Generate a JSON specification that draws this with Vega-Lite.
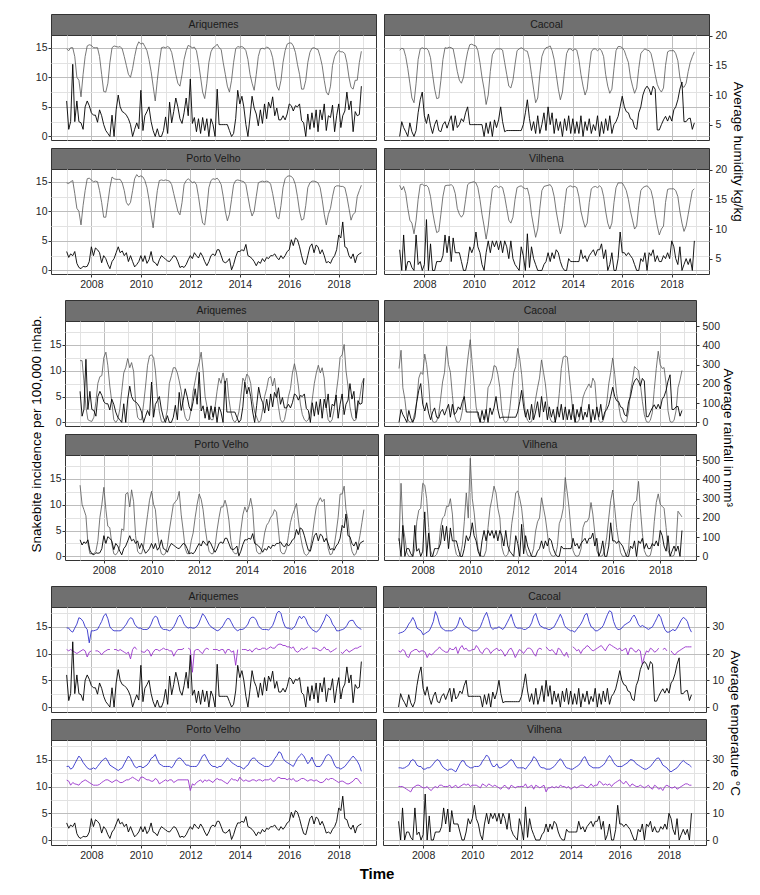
{
"$schema": "https://vega.github.io/schema/vega-lite/v6.json",
"padding": {"left": 29, "top": 13, "right": 6, "bottom": 4},
"background": "white",
"datasets": {
"ari": [
{"d":"2007-01","i":6,"h":17.8,"r":321,"x":29.6,"n":21.5},{"d":"2007-02","i":1.2,"h":17.5,"r":321,"x":29.5,"n":21},{"d":"2007-03","i":2.5,"h":18,"r":216,"x":28.5,"n":21.5},{"d":"2007-04","i":12.2,"h":18,"r":81,"x":28,"n":21},{"d":"2007-05","i":2.5,"h":16.5,"r":14,"x":29.5,"n":20.5},{"d":"2007-06","i":6,"h":13,"r":8,"x":31,"n":20},{"d":"2007-07","i":2.5,"h":12.5,"r":5,"x":33.4,"n":20.5},{"d":"2007-08","i":2.3,"h":9.7,"r":27,"x":33,"n":21},{"d":"2007-09","i":1.2,"h":13.5,"r":108,"x":32,"n":21.5},{"d":"2007-10","i":5,"h":16.5,"r":203,"x":30,"n":21},{"d":"2007-11","i":6,"h":18.3,"r":238,"x":29,"n":18.7},{"d":"2007-12","i":5.2,"h":18.5,"r":243,"x":24,"n":20.5},
{"d":"2008-01","i":4,"h":18.4,"r":338,"x":28.5,"n":21},{"d":"2008-02","i":3.6,"h":18,"r":365,"x":28.5,"n":null},{"d":"2008-03","i":3.6,"h":18,"r":297,"x":28.7,"n":21},{"d":"2008-04","i":2.4,"h":18,"r":189,"x":29,"n":21},{"d":"2008-05","i":4.5,"h":16.5,"r":108,"x":30.5,"n":20.5},{"d":"2008-06","i":3.5,"h":13.5,"r":14,"x":32,"n":19.5},{"d":"2008-07","i":2,"h":10.6,"r":0,"x":34,"n":20.5},{"d":"2008-08","i":1,"h":10.5,"r":14,"x":34.9,"n":21},{"d":"2008-09","i":0.5,"h":12,"r":68,"x":33,"n":21.5},{"d":"2008-10","i":0,"h":15.5,"r":162,"x":30,"n":21.5},{"d":"2008-11","i":3.6,"h":18,"r":257,"x":29,"n":null},{"d":"2008-12","i":0,"h":18.3,"r":284,"x":28.5,"n":21.5},
{"d":"2009-01","i":4.5,"h":18.2,"r":332,"x":28.5,"n":21.5},{"d":"2009-02","i":7,"h":18.1,"r":284,"x":28.5,"n":21},{"d":"2009-03","i":5,"h":18.2,"r":311,"x":28.5,"n":21.5},{"d":"2009-04","i":4.2,"h":17.8,"r":265,"x":29,"n":21},{"d":"2009-05","i":4,"h":16.5,"r":108,"x":30,"n":20.5},{"d":"2009-06","i":3.6,"h":15,"r":27,"x":31,"n":20},{"d":"2009-07","i":3,"h":13.5,"r":14,"x":32.5,"n":20.5},{"d":"2009-08","i":2,"h":13,"r":14,"x":33.4,"n":18},{"d":"2009-09","i":0,"h":14.5,"r":95,"x":33,"n":21.5},{"d":"2009-10","i":1.2,"h":16.5,"r":189,"x":31,"n":22.5},{"d":"2009-11","i":2.3,"h":18.2,"r":297,"x":30,"n":21.5},{"d":"2009-12","i":1.3,"h":19,"r":346,"x":29.5,"n":null},
{"d":"2010-01","i":7.8,"h":18.6,"r":351,"x":29.5,"n":21},{"d":"2010-02","i":1,"h":18.8,"r":338,"x":29,"n":20.5},{"d":"2010-03","i":3.5,"h":18.2,"r":270,"x":29,"n":20.5},{"d":"2010-04","i":4.2,"h":17.5,"r":135,"x":29,"n":21.5},{"d":"2010-05","i":5,"h":16,"r":54,"x":29.5,"n":21},{"d":"2010-06","i":2.5,"h":14,"r":5,"x":31,"n":19},{"d":"2010-07","i":1,"h":11.5,"r":0,"x":33,"n":20.5},{"d":"2010-08","i":0,"h":9,"r":14,"x":34,"n":21.5},{"d":"2010-09","i":1.3,"h":12.5,"r":68,"x":33.5,"n":21.5},{"d":"2010-10","i":0,"h":15.5,"r":203,"x":31,"n":21},{"d":"2010-11","i":0,"h":18,"r":243,"x":29.5,"n":21.5},{"d":"2010-12","i":1,"h":18.1,"r":284,"x":29,"n":22},
{"d":"2011-01","i":3.3,"h":18,"r":284,"x":29,"n":21.5},{"d":"2011-02","i":0.5,"h":18.2,"r":257,"x":28.8,"n":21.5},{"d":"2011-03","i":5.8,"h":18,"r":216,"x":28.5,"n":21},{"d":"2011-04","i":2.3,"h":17.2,"r":162,"x":29,"n":21},{"d":"2011-05","i":4.2,"h":15.5,"r":81,"x":30,"n":19},{"d":"2011-06","i":6.5,"h":13.5,"r":27,"x":31.5,"n":20.5},{"d":"2011-07","i":5,"h":12,"r":8,"x":33.5,"n":21.5},{"d":"2011-08","i":3,"h":11.5,"r":14,"x":34.4,"n":21.5},{"d":"2011-09","i":2.2,"h":13.5,"r":68,"x":33,"n":21.5},{"d":"2011-10","i":4,"h":16,"r":162,"x":31,"n":22},{"d":"2011-11","i":6.5,"h":17.5,"r":216,"x":30,"n":null},{"d":"2011-12","i":3.5,"h":18.4,"r":270,"x":29.5,"n":22},
{"d":"2012-01","i":9.7,"h":18.2,"r":311,"x":29.8,"n":21.5},{"d":"2012-02","i":2.2,"h":18,"r":365,"x":29.5,"n":13},{"d":"2012-03","i":3.2,"h":18.1,"r":270,"x":29.5,"n":21},{"d":"2012-04","i":0.8,"h":17.5,"r":135,"x":30,"n":21.5},{"d":"2012-05","i":3,"h":15.5,"r":81,"x":31,"n":21.5},{"d":"2012-06","i":0.5,"h":13,"r":41,"x":33,"n":20.5},{"d":"2012-07","i":3.2,"h":10.5,"r":14,"x":34.9,"n":20},{"d":"2012-08","i":1,"h":9.4,"r":14,"x":34,"n":21.5},{"d":"2012-09","i":3,"h":12,"r":81,"x":32.5,"n":22},{"d":"2012-10","i":0,"h":15.5,"r":162,"x":31,"n":21.5},{"d":"2012-11","i":3,"h":17.3,"r":230,"x":30,"n":null},{"d":"2012-12","i":2,"h":18,"r":203,"x":29.5,"n":21.5},
{"d":"2013-01","i":0,"h":18.2,"r":257,"x":29,"n":21.5},{"d":"2013-02","i":8,"h":18.6,"r":203,"x":28.5,"n":21.5},{"d":"2013-03","i":2,"h":18,"r":230,"x":28.8,"n":21},{"d":"2013-04","i":2,"h":17.7,"r":122,"x":29.5,"n":21.5},{"d":"2013-05","i":2,"h":15.5,"r":54,"x":30.5,"n":21.5},{"d":"2013-06","i":2,"h":13.5,"r":14,"x":32,"n":20},{"d":"2013-07","i":2,"h":11.5,"r":0,"x":33.1,"n":21.5},{"d":"2013-08","i":1,"h":10.5,"r":14,"x":33,"n":21.5},{"d":"2013-09","i":0,"h":12.5,"r":54,"x":31.5,"n":20.5},{"d":"2013-10","i":0.5,"h":15.5,"r":135,"x":30,"n":21},{"d":"2013-11","i":3,"h":17.8,"r":230,"x":29,"n":15.6},{"d":"2013-12","i":7.8,"h":18.2,"r":211,"x":28.5,"n":21.5},
{"d":"2014-01","i":5.5,"h":18.1,"r":251,"x":29,"n":null},{"d":"2014-02","i":6.8,"h":18.2,"r":238,"x":29,"n":21.5},{"d":"2014-03","i":5,"h":18,"r":203,"x":29.2,"n":21.5},{"d":"2014-04","i":2,"h":17.5,"r":108,"x":30,"n":21.5},{"d":"2014-05","i":0,"h":16,"r":54,"x":31,"n":21},{"d":"2014-06","i":3.3,"h":13.5,"r":27,"x":33,"n":21.5},{"d":"2014-07","i":6.8,"h":12,"r":0,"x":33.6,"n":20.5},{"d":"2014-08","i":4.8,"h":10.8,"r":8,"x":33.5,"n":21.5},{"d":"2014-09","i":3.8,"h":13.5,"r":68,"x":32.5,"n":22},{"d":"2014-10","i":1.8,"h":16.5,"r":135,"x":30.5,"n":21.5},{"d":"2014-11","i":4.5,"h":17.8,"r":176,"x":29.5,"n":21.5},{"d":"2014-12","i":2.2,"h":17.9,"r":230,"x":29,"n":22},
{"d":"2015-01","i":5.5,"h":17.8,"r":238,"x":29,"n":22},{"d":"2015-02","i":3,"h":18.1,"r":189,"x":29,"n":21.5},{"d":"2015-03","i":5.8,"h":18,"r":230,"x":28.8,"n":22},{"d":"2015-04","i":4.8,"h":17.5,"r":149,"x":29.5,"n":22.5},{"d":"2015-05","i":6.7,"h":16.3,"r":81,"x":30.5,"n":22},{"d":"2015-06","i":3.5,"h":14,"r":14,"x":32.5,"n":22},{"d":"2015-07","i":4.8,"h":11.5,"r":0,"x":35,"n":23},{"d":"2015-08","i":2.8,"h":10.8,"r":14,"x":35.9,"n":23.5},{"d":"2015-09","i":2.8,"h":12.5,"r":68,"x":35,"n":23.5},{"d":"2015-10","i":3.5,"h":15.5,"r":135,"x":32,"n":23},{"d":"2015-11","i":2.8,"h":17.5,"r":176,"x":30,"n":23},{"d":"2015-12","i":3.8,"h":18.6,"r":257,"x":29.5,"n":22.5},
{"d":"2016-01","i":5.5,"h":18.8,"r":305,"x":29.5,"n":22.5},{"d":"2016-02","i":5.2,"h":18.8,"r":257,"x":29,"n":22},{"d":"2016-03","i":4.3,"h":18.3,"r":189,"x":29.5,"n":22.5},{"d":"2016-04","i":5.2,"h":17.2,"r":95,"x":30.5,"n":21},{"d":"2016-05","i":5,"h":15.2,"r":41,"x":32.5,"n":20.5},{"d":"2016-06","i":5.5,"h":13.5,"r":14,"x":34,"n":21},{"d":"2016-07","i":2.7,"h":11,"r":5,"x":33,"n":22},{"d":"2016-08","i":2.3,"h":11,"r":14,"x":34,"n":21.5},{"d":"2016-09","i":0,"h":12.5,"r":54,"x":33,"n":22},{"d":"2016-10","i":3.8,"h":15.5,"r":122,"x":31,"n":22.5},{"d":"2016-11","i":1.2,"h":17.2,"r":203,"x":30,"n":null},{"d":"2016-12","i":4,"h":17.9,"r":257,"x":29,"n":22},
{"d":"2017-01","i":1.5,"h":18,"r":297,"x":28.5,"n":22},{"d":"2017-02","i":4.5,"h":17.8,"r":257,"x":28,"n":22},{"d":"2017-03","i":0.8,"h":17.7,"r":284,"x":28.5,"n":21.5},{"d":"2017-04","i":4.5,"h":16.5,"r":230,"x":29.5,"n":21},{"d":"2017-05","i":2.8,"h":15,"r":81,"x":31,"n":21.5},{"d":"2017-06","i":5.5,"h":12.5,"r":14,"x":32.5,"n":22.5},{"d":"2017-07","i":1,"h":10.5,"r":0,"x":34.6,"n":21.5},{"d":"2017-08","i":3.5,"h":10,"r":14,"x":34,"n":21.5},{"d":"2017-09","i":3.2,"h":11.5,"r":68,"x":33,"n":20.5},{"d":"2017-10","i":5.3,"h":15,"r":149,"x":31,"n":21},{"d":"2017-11","i":0.8,"h":16.5,"r":230,"x":30,"n":21.5},{"d":"2017-12","i":3.5,"h":17.2,"r":338,"x":28.5,"n":22},
{"d":"2018-01","i":5.5,"h":17.5,"r":351,"x":28.5,"n":null},{"d":"2018-02","i":1.5,"h":17.3,"r":405,"x":28.8,"n":20.5},{"d":"2018-03","i":3.5,"h":17.3,"r":270,"x":29,"n":20},{"d":"2018-04","i":4.3,"h":17,"r":189,"x":29.5,"n":21},{"d":"2018-05","i":7.5,"h":15.5,"r":81,"x":30.5,"n":21.5},{"d":"2018-06","i":4.5,"h":13,"r":27,"x":32,"n":20.5},{"d":"2018-07","i":6,"h":11.3,"r":8,"x":32.4,"n":21},{"d":"2018-08","i":0.8,"h":11,"r":14,"x":32.4,"n":21.5},{"d":"2018-09","i":4.2,"h":12.5,"r":81,"x":31,"n":22},{"d":"2018-10","i":3.5,"h":12.5,"r":135,"x":30,"n":22},{"d":"2018-11","i":3.7,"h":15.5,"r":203,"x":29.5,"n":22.5},{"d":"2018-12","i":8.5,"h":17.4,"r":230,"x":29,"n":22.8}
],
"cac": [
{"d":"2007-01","i":0,"h":17.6,"r":280,"x":27.5,"n":21},{"d":"2007-02","i":2.5,"h":17.9,"r":375,"x":27.8,"n":20.5},{"d":"2007-03","i":1.5,"h":17.8,"r":180,"x":28,"n":21.5},{"d":"2007-04","i":0.8,"h":16.5,"r":120,"x":28.5,"n":21},{"d":"2007-05","i":0,"h":14.5,"r":30,"x":29.5,"n":19},{"d":"2007-06","i":2.3,"h":12,"r":5,"x":31,"n":18.5},{"d":"2007-07","i":0.8,"h":9.5,"r":0,"x":32,"n":20.5},{"d":"2007-08","i":0,"h":8.7,"r":10,"x":33.5,"n":21},{"d":"2007-09","i":1,"h":12,"r":50,"x":32,"n":21.5},{"d":"2007-10","i":4,"h":16,"r":110,"x":29.5,"n":21.5},{"d":"2007-11","i":6.2,"h":17.8,"r":230,"x":29,"n":20.5},{"d":"2007-12","i":7.5,"h":18,"r":260,"x":28.5,"n":21},
{"d":"2008-01","i":3.5,"h":17.8,"r":250,"x":27,"n":21},{"d":"2008-02","i":2.2,"h":17.9,"r":355,"x":27.5,"n":20.5},{"d":"2008-03","i":3.8,"h":17.5,"r":300,"x":28,"n":18.5},{"d":"2008-04","i":1.8,"h":16.3,"r":200,"x":28.5,"n":20},{"d":"2008-05","i":0.5,"h":13.5,"r":60,"x":30,"n":19.5},{"d":"2008-06","i":2,"h":11,"r":5,"x":32,"n":20},{"d":"2008-07","i":2.8,"h":9.4,"r":0,"x":35.7,"n":21},{"d":"2008-08","i":1,"h":9.5,"r":5,"x":34,"n":21.5},{"d":"2008-09","i":0.8,"h":12.5,"r":40,"x":31,"n":22.5},{"d":"2008-10","i":2,"h":16,"r":120,"x":29.5,"n":21.5},{"d":"2008-11","i":2.5,"h":18,"r":210,"x":29,"n":21},{"d":"2008-12","i":1.4,"h":17.9,"r":260,"x":28.5,"n":20.5},
{"d":"2009-01","i":2.5,"h":18.1,"r":395,"x":28.5,"n":20.5},{"d":"2009-02","i":3.5,"h":18,"r":300,"x":28.5,"n":22},{"d":"2009-03","i":1,"h":17.8,"r":260,"x":28.5,"n":21.5},{"d":"2009-04","i":3.5,"h":16,"r":140,"x":29,"n":21.5},{"d":"2009-05","i":1.5,"h":14,"r":40,"x":29.5,"n":22.5},{"d":"2009-06","i":2,"h":12.5,"r":5,"x":31,"n":20},{"d":"2009-07","i":3,"h":12,"r":0,"x":33.5,"n":22},{"d":"2009-08","i":2.5,"h":13,"r":10,"x":32.5,"n":23},{"d":"2009-09","i":4,"h":15.5,"r":60,"x":30.5,"n":21.5},{"d":"2009-10","i":5,"h":17.3,"r":150,"x":30,"n":22},{"d":"2009-11","i":2,"h":18.5,"r":260,"x":29.5,"n":21},{"d":"2009-12","i":2,"h":18.6,"r":350,"x":29,"n":21},
{"d":"2010-01","i":2,"h":18.4,"r":430,"x":28.5,"n":21.5},{"d":"2010-02","i":2,"h":18.3,"r":300,"x":28.5,"n":21.5},{"d":"2010-03","i":2,"h":17.5,"r":200,"x":28.5,"n":23},{"d":"2010-04","i":2,"h":15.5,"r":80,"x":29,"n":22},{"d":"2010-05","i":2,"h":13,"r":30,"x":30,"n":20.5},{"d":"2010-06","i":0,"h":11,"r":5,"x":32,"n":20},{"d":"2010-07","i":2.3,"h":8.4,"r":0,"x":34,"n":21.5},{"d":"2010-08","i":0.5,"h":10,"r":0,"x":35.4,"n":22},{"d":"2010-09","i":2.5,"h":14,"r":40,"x":33,"n":21.5},{"d":"2010-10","i":0,"h":16.8,"r":180,"x":30,"n":20},{"d":"2010-11","i":2.8,"h":17.5,"r":200,"x":29,"n":21},{"d":"2010-12","i":1.5,"h":17.8,"r":230,"x":29.5,"n":21.5},
{"d":"2011-01","i":2.8,"h":17.8,"r":295,"x":29.5,"n":22},{"d":"2011-02","i":5,"h":17.8,"r":290,"x":30,"n":21},{"d":"2011-03","i":2.5,"h":17.6,"r":250,"x":29.5,"n":21.5},{"d":"2011-04","i":0.8,"h":15.5,"r":180,"x":29,"n":20.5},{"d":"2011-05","i":1,"h":13.5,"r":60,"x":30,"n":19},{"d":"2011-06","i":1,"h":11.5,"r":10,"x":31.5,"n":20},{"d":"2011-07","i":1,"h":11.2,"r":0,"x":33,"n":21.5},{"d":"2011-08","i":1,"h":12.5,"r":10,"x":34.7,"n":22},{"d":"2011-09","i":1,"h":15.2,"r":70,"x":32,"n":20.5},{"d":"2011-10","i":1,"h":17.5,"r":170,"x":30,"n":18.5},{"d":"2011-11","i":1,"h":17.8,"r":260,"x":29.5,"n":20},{"d":"2011-12","i":1,"h":18,"r":290,"x":29.5,"n":21.5},
{"d":"2012-01","i":2,"h":17.8,"r":385,"x":29.5,"n":21},{"d":"2012-02","i":4,"h":17.5,"r":330,"x":29,"n":20},{"d":"2012-03","i":6.2,"h":17.4,"r":250,"x":29,"n":21},{"d":"2012-04","i":3,"h":16,"r":130,"x":29.5,"n":22},{"d":"2012-05","i":1,"h":13.5,"r":40,"x":30,"n":22},{"d":"2012-06","i":2.5,"h":11,"r":10,"x":31.5,"n":21.5},{"d":"2012-07","i":0.5,"h":8.7,"r":0,"x":34,"n":20},{"d":"2012-08","i":3.5,"h":9.5,"r":5,"x":35,"n":19},{"d":"2012-09","i":0.5,"h":13.5,"r":50,"x":32.5,"n":21.5},{"d":"2012-10","i":2,"h":16.5,"r":120,"x":30.5,"n":22},{"d":"2012-11","i":4,"h":17.5,"r":180,"x":30,"n":21.5},{"d":"2012-12","i":1,"h":18,"r":230,"x":29.5,"n":null},
{"d":"2013-01","i":5,"h":18.1,"r":325,"x":29.5,"n":22.5},{"d":"2013-02","i":2,"h":18.3,"r":260,"x":29,"n":21.5},{"d":"2013-03","i":4,"h":17.5,"r":200,"x":29,"n":21},{"d":"2013-04","i":0.5,"h":16,"r":100,"x":29.5,"n":21.5},{"d":"2013-05","i":3,"h":13.5,"r":30,"x":30,"n":20.5},{"d":"2013-06","i":1,"h":11,"r":5,"x":31.5,"n":19.5},{"d":"2013-07","i":2.5,"h":9.2,"r":0,"x":33,"n":22},{"d":"2013-08","i":0,"h":10.5,"r":5,"x":34.7,"n":21.5},{"d":"2013-09","i":3,"h":14,"r":50,"x":33,"n":20},{"d":"2013-10","i":1,"h":17,"r":150,"x":30.5,"n":19},{"d":"2013-11","i":3.5,"h":17.8,"r":280,"x":29.5,"n":20.5},{"d":"2013-12","i":0.5,"h":17.8,"r":340,"x":29,"n":18.5},
{"d":"2014-01","i":3,"h":17.5,"r":345,"x":28.5,"n":null},{"d":"2014-02","i":0.5,"h":17.8,"r":340,"x":28.5,"n":22.5},{"d":"2014-03","i":2.5,"h":17.6,"r":250,"x":28,"n":22},{"d":"2014-04","i":0.5,"h":16,"r":150,"x":29,"n":21},{"d":"2014-05","i":3.5,"h":13.5,"r":40,"x":30,"n":21.5},{"d":"2014-06","i":0,"h":11.5,"r":5,"x":31,"n":20},{"d":"2014-07","i":2.5,"h":10,"r":0,"x":32.5,"n":21.5},{"d":"2014-08","i":1,"h":11,"r":10,"x":34.5,"n":22},{"d":"2014-09","i":3,"h":14.5,"r":60,"x":35,"n":23},{"d":"2014-10","i":0.5,"h":17.3,"r":130,"x":32,"n":22.5},{"d":"2014-11","i":2,"h":17.8,"r":160,"x":30,"n":21.5},{"d":"2014-12","i":1,"h":17.8,"r":180,"x":29.5,"n":21},
{"d":"2015-01","i":3.5,"h":17.5,"r":200,"x":28.5,"n":21.5},{"d":"2015-02","i":0,"h":17.8,"r":180,"x":28.5,"n":22},{"d":"2015-03","i":2.5,"h":17.5,"r":230,"x":29,"n":22.5},{"d":"2015-04","i":0.5,"h":16.5,"r":210,"x":29.5,"n":23},{"d":"2015-05","i":3,"h":13.5,"r":80,"x":30.5,"n":22},{"d":"2015-06","i":1,"h":11.5,"r":10,"x":32.5,"n":21},{"d":"2015-07","i":3.5,"h":10.3,"r":0,"x":34.5,"n":22.5},{"d":"2015-08","i":0.5,"h":11,"r":5,"x":36,"n":23.5},{"d":"2015-09","i":2,"h":14.5,"r":40,"x":35.5,"n":23},{"d":"2015-10","i":2.5,"h":17.5,"r":100,"x":32,"n":22.5},{"d":"2015-11","i":3.4,"h":18.2,"r":200,"x":30,"n":22},{"d":"2015-12","i":5,"h":18.2,"r":260,"x":29,"n":21.5},
{"d":"2016-01","i":6.8,"h":18,"r":335,"x":29,"n":22},{"d":"2016-02","i":5,"h":17.5,"r":250,"x":29.5,"n":21},{"d":"2016-03","i":4.2,"h":16.5,"r":150,"x":30.5,"n":21.5},{"d":"2016-04","i":4,"h":15.5,"r":90,"x":31,"n":22},{"d":"2016-05","i":3,"h":13,"r":30,"x":31.5,"n":19.5},{"d":"2016-06","i":2.8,"h":11.5,"r":5,"x":32,"n":22},{"d":"2016-07","i":1.5,"h":10.3,"r":0,"x":33.5,"n":22},{"d":"2016-08","i":1.2,"h":11.2,"r":5,"x":34.4,"n":21},{"d":"2016-09","i":4,"h":14.5,"r":60,"x":33,"n":20.5},{"d":"2016-10","i":5,"h":17,"r":160,"x":31,"n":21.5},{"d":"2016-11","i":7,"h":17.5,"r":220,"x":30,"n":21},{"d":"2016-12","i":8,"h":17.8,"r":290,"x":30.5,"n":16},
{"d":"2017-01","i":8.5,"h":17.6,"r":280,"x":30,"n":19},{"d":"2017-02","i":8,"h":17.5,"r":270,"x":29.5,"n":21},{"d":"2017-03","i":7,"h":17,"r":200,"x":29,"n":20.5},{"d":"2017-04","i":8.5,"h":15.5,"r":110,"x":29.5,"n":22},{"d":"2017-05","i":8,"h":13.5,"r":40,"x":30,"n":21.5},{"d":"2017-06","i":1.1,"h":11.8,"r":5,"x":31.5,"n":20.5},{"d":"2017-07","i":1.1,"h":11,"r":0,"x":33,"n":21},{"d":"2017-08","i":2,"h":10.5,"r":10,"x":34.7,"n":22},{"d":"2017-09","i":2.8,"h":11.2,"r":50,"x":33.5,"n":null},{"d":"2017-10","i":3.4,"h":15,"r":170,"x":31,"n":21.5},{"d":"2017-11","i":2.6,"h":17.3,"r":280,"x":29,"n":22},{"d":"2017-12","i":3.5,"h":17.5,"r":370,"x":28,"n":21},
{"d":"2018-01","i":2.6,"h":17.5,"r":300,"x":28,"n":null},{"d":"2018-02","i":4.5,"h":17.5,"r":280,"x":28.5,"n":21},{"d":"2018-03","i":5,"h":17,"r":285,"x":29,"n":20},{"d":"2018-04","i":6.2,"h":15.8,"r":200,"x":28.5,"n":19.5},{"d":"2018-05","i":8,"h":13,"r":60,"x":29.5,"n":20.5},{"d":"2018-06","i":9.2,"h":11.5,"r":5,"x":31,"n":21},{"d":"2018-07","i":2.5,"h":11.3,"r":0,"x":32.5,"n":21.5},{"d":"2018-08","i":2.5,"h":12,"r":10,"x":33.5,"n":22},{"d":"2018-09","i":3,"h":14,"r":60,"x":33,"n":22.5},{"d":"2018-10","i":3.1,"h":15.5,"r":180,"x":32,"n":22.5},{"d":"2018-11","i":1.2,"h":16.5,"r":220,"x":29.5,"n":22.5},{"d":"2018-12","i":2.3,"h":17.3,"r":270,"x":28,"n":22.5}
],
"pvh": [
{"d":"2007-01","i":3.2,"h":17.8,"r":370,"x":27.5,"n":22.4},{"d":"2007-02","i":2.2,"h":17.7,"r":270,"x":27.6,"n":22},{"d":"2007-03","i":2.8,"h":18,"r":243,"x":26.5,"n":20.5},{"d":"2007-04","i":2.5,"h":18.2,"r":211,"x":27,"n":21.5},{"d":"2007-05","i":3.2,"h":16,"r":68,"x":28.5,"n":21},{"d":"2007-06","i":1.2,"h":13.5,"r":14,"x":30,"n":20.8},{"d":"2007-07","i":0.5,"h":13,"r":14,"x":31.4,"n":20.5},{"d":"2007-08","i":0.3,"h":10.7,"r":14,"x":30.5,"n":21.5},{"d":"2007-09","i":0.7,"h":14,"r":27,"x":29,"n":22},{"d":"2007-10","i":0.6,"h":16.5,"r":81,"x":28,"n":22.5},{"d":"2007-11","i":0.7,"h":18.5,"r":203,"x":27,"n":22},{"d":"2007-12","i":1.5,"h":18.6,"r":270,"x":26.5,"n":21.5},
{"d":"2008-01","i":4,"h":18.3,"r":359,"x":26.5,"n":21},{"d":"2008-02","i":2.5,"h":18,"r":243,"x":27,"n":20.5},{"d":"2008-03","i":3.8,"h":18.1,"r":157,"x":26.5,"n":20.5},{"d":"2008-04","i":3.5,"h":18,"r":149,"x":27.5,"n":20.5},{"d":"2008-05","i":3,"h":16.5,"r":68,"x":28.5,"n":20.8},{"d":"2008-06","i":1.3,"h":14.5,"r":14,"x":29.5,"n":21.5},{"d":"2008-07","i":2.5,"h":12,"r":8,"x":30.2,"n":22},{"d":"2008-08","i":2,"h":12,"r":22,"x":30.7,"n":22.5},{"d":"2008-09","i":1,"h":14.5,"r":54,"x":29.5,"n":22.5},{"d":"2008-10","i":0.3,"h":17,"r":143,"x":28,"n":22},{"d":"2008-11","i":1.5,"h":18.8,"r":135,"x":27.5,"n":21.5},{"d":"2008-12","i":2,"h":18.5,"r":324,"x":27,"n":22},
{"d":"2009-01","i":3,"h":18.4,"r":332,"x":26.5,"n":22.5},{"d":"2009-02","i":4,"h":18.4,"r":257,"x":26,"n":22},{"d":"2009-03","i":3,"h":18.4,"r":346,"x":26.5,"n":21.5},{"d":"2009-04","i":3.3,"h":17.8,"r":284,"x":27,"n":21.5},{"d":"2009-05","i":2.5,"h":16.5,"r":108,"x":28.5,"n":22},{"d":"2009-06","i":3,"h":14.5,"r":27,"x":30,"n":22.5},{"d":"2009-07","i":1.5,"h":14,"r":14,"x":31.4,"n":22.5},{"d":"2009-08","i":2.5,"h":14.5,"r":14,"x":30.5,"n":23},{"d":"2009-09","i":1.5,"h":16.5,"r":54,"x":29,"n":23.5},{"d":"2009-10","i":0.6,"h":18.5,"r":135,"x":27.5,"n":23},{"d":"2009-11","i":1,"h":19.2,"r":216,"x":27,"n":22.5},{"d":"2009-12","i":1.5,"h":18.8,"r":292,"x":27.5,"n":22},
{"d":"2010-01","i":2.5,"h":19,"r":338,"x":27.5,"n":23.5},{"d":"2010-02","i":1.5,"h":18.8,"r":270,"x":27,"n":23.5},{"d":"2010-03","i":2.5,"h":18.2,"r":243,"x":27.5,"n":23},{"d":"2010-04","i":1.2,"h":17,"r":122,"x":28,"n":22.5},{"d":"2010-05","i":1.8,"h":15,"r":54,"x":29,"n":22.5},{"d":"2010-06","i":3.2,"h":12.5,"r":14,"x":30.5,"n":22},{"d":"2010-07","i":1.5,"h":10.2,"r":8,"x":31,"n":22},{"d":"2010-08","i":1.3,"h":13.5,"r":14,"x":32,"n":23},{"d":"2010-09","i":0.8,"h":16.5,"r":54,"x":30,"n":22.5},{"d":"2010-10","i":1.8,"h":18.2,"r":135,"x":28.5,"n":21},{"d":"2010-11","i":2.5,"h":18.3,"r":203,"x":28,"n":21.5},{"d":"2010-12","i":2.2,"h":18.2,"r":270,"x":27.5,"n":22},
{"d":"2011-01","i":1.9,"h":18.3,"r":284,"x":27.5,"n":22.5},{"d":"2011-02","i":1.6,"h":18.2,"r":297,"x":27.5,"n":22},{"d":"2011-03","i":1.5,"h":18.1,"r":338,"x":27.5,"n":22.5},{"d":"2011-04","i":2,"h":17.5,"r":216,"x":27,"n":22.5},{"d":"2011-05","i":2.5,"h":16,"r":135,"x":28,"n":21.5},{"d":"2011-06","i":2.3,"h":14.5,"r":41,"x":29.5,"n":22},{"d":"2011-07","i":1.5,"h":13,"r":14,"x":30.5,"n":22.5},{"d":"2011-08","i":0.5,"h":12.4,"r":14,"x":30.7,"n":22.5},{"d":"2011-09","i":0.7,"h":14.5,"r":81,"x":30,"n":22.5},{"d":"2011-10","i":0.5,"h":17.5,"r":122,"x":29,"n":22.5},{"d":"2011-11","i":1,"h":18.2,"r":203,"x":28,"n":22.5},{"d":"2011-12","i":1.8,"h":18.5,"r":270,"x":28,"n":22.5},
{"d":"2012-01","i":2.5,"h":18.2,"r":324,"x":27.5,"n":18.5},{"d":"2012-02","i":2,"h":17.8,"r":297,"x":27.5,"n":21},{"d":"2012-03","i":3,"h":18,"r":243,"x":27.5,"n":20.5},{"d":"2012-04","i":2.5,"h":17.5,"r":149,"x":27.5,"n":21.5},{"d":"2012-05","i":2.1,"h":15.5,"r":81,"x":28.5,"n":22},{"d":"2012-06","i":3,"h":13,"r":27,"x":30,"n":22.5},{"d":"2012-07","i":2.4,"h":11,"r":14,"x":31.5,"n":21.5},{"d":"2012-08","i":1.5,"h":10.7,"r":14,"x":32,"n":22.5},{"d":"2012-09","i":0.8,"h":13.5,"r":54,"x":30.5,"n":22},{"d":"2012-10","i":1.5,"h":17,"r":135,"x":29,"n":22.5},{"d":"2012-11","i":2.5,"h":18.2,"r":203,"x":28,"n":22},{"d":"2012-12","i":2.8,"h":18.5,"r":257,"x":27.5,"n":21.5},
{"d":"2013-01","i":2.5,"h":18.4,"r":257,"x":27.5,"n":22.5},{"d":"2013-02","i":3.5,"h":18.6,"r":292,"x":27,"n":23},{"d":"2013-03","i":3.5,"h":18.2,"r":257,"x":27.5,"n":22.5},{"d":"2013-04","i":2.5,"h":17.5,"r":189,"x":27.5,"n":22.5},{"d":"2013-05","i":1.5,"h":15.5,"r":81,"x":28.5,"n":22},{"d":"2013-06","i":1.3,"h":13,"r":27,"x":29.5,"n":21.5},{"d":"2013-07","i":1.5,"h":11.4,"r":14,"x":30.7,"n":21},{"d":"2013-08","i":2,"h":12.5,"r":14,"x":30,"n":22},{"d":"2013-09","i":0.1,"h":15,"r":41,"x":29,"n":23},{"d":"2013-10","i":1,"h":17.5,"r":135,"x":28.5,"n":22.5},{"d":"2013-11","i":2.3,"h":18.2,"r":216,"x":28,"n":22.5},{"d":"2013-12","i":3.2,"h":18.3,"r":257,"x":27.5,"n":22},
{"d":"2014-01","i":3.2,"h":18.2,"r":230,"x":27.5,"n":23.5},{"d":"2014-02","i":3.5,"h":18.1,"r":257,"x":27,"n":22.5},{"d":"2014-03","i":3.3,"h":18,"r":302,"x":26.5,"n":22},{"d":"2014-04","i":4.4,"h":17.5,"r":243,"x":27.5,"n":22.5},{"d":"2014-05","i":2.5,"h":15.5,"r":95,"x":28,"n":22},{"d":"2014-06","i":2.3,"h":13.5,"r":27,"x":29.5,"n":22},{"d":"2014-07","i":2,"h":12.2,"r":14,"x":30.5,"n":22.5},{"d":"2014-08","i":1.5,"h":13,"r":14,"x":30.7,"n":22.5},{"d":"2014-09","i":0.8,"h":15.5,"r":54,"x":30,"n":22},{"d":"2014-10","i":1.5,"h":17.8,"r":122,"x":29,"n":22.5},{"d":"2014-11","i":1.2,"h":18,"r":162,"x":28.5,"n":22.5},{"d":"2014-12","i":2,"h":18.1,"r":176,"x":28,"n":22},
{"d":"2015-01","i":1.5,"h":18,"r":203,"x":27.5,"n":22.5},{"d":"2015-02","i":2.2,"h":18.1,"r":216,"x":27.5,"n":22.5},{"d":"2015-03","i":2,"h":18,"r":243,"x":27.5,"n":22.5},{"d":"2015-04","i":2.5,"h":17.6,"r":230,"x":28,"n":23},{"d":"2015-05","i":2.5,"h":16,"r":135,"x":29,"n":22},{"d":"2015-06","i":2.8,"h":14,"r":27,"x":30.5,"n":22},{"d":"2015-07","i":2.2,"h":12,"r":14,"x":31.5,"n":23},{"d":"2015-08","i":1.8,"h":11.7,"r":14,"x":33,"n":23.5},{"d":"2015-09","i":2.5,"h":14,"r":41,"x":32.5,"n":23},{"d":"2015-10","i":2,"h":17,"r":108,"x":30.5,"n":23},{"d":"2015-11","i":2.5,"h":18.5,"r":176,"x":29.5,"n":23},{"d":"2015-12","i":3.2,"h":18.9,"r":216,"x":29,"n":22.5},
{"d":"2016-01","i":3.5,"h":19,"r":243,"x":28.5,"n":23},{"d":"2016-02","i":5.2,"h":18.9,"r":275,"x":28,"n":22.5},{"d":"2016-03","i":4.2,"h":18.5,"r":189,"x":27.5,"n":23},{"d":"2016-04","i":5.5,"h":17.5,"r":108,"x":29,"n":22},{"d":"2016-05","i":5.2,"h":15.5,"r":54,"x":30.5,"n":22},{"d":"2016-06","i":4,"h":13,"r":14,"x":31.5,"n":22.5},{"d":"2016-07","i":2.5,"h":11.5,"r":5,"x":32.2,"n":23},{"d":"2016-08","i":1.2,"h":11.7,"r":14,"x":31.5,"n":23},{"d":"2016-09","i":1,"h":14,"r":41,"x":30,"n":22.5},{"d":"2016-10","i":2.5,"h":17,"r":108,"x":28.5,"n":22},{"d":"2016-11","i":4,"h":17.8,"r":189,"x":29.5,"n":22.5},{"d":"2016-12","i":4.5,"h":18.1,"r":257,"x":31,"n":22.5},
{"d":"2017-01","i":3,"h":18.1,"r":284,"x":29,"n":22},{"d":"2017-02","i":4.3,"h":18,"r":305,"x":27.5,"n":22.5},{"d":"2017-03","i":4,"h":17.8,"r":284,"x":27.5,"n":22},{"d":"2017-04","i":2.8,"h":17,"r":297,"x":27.5,"n":21.5},{"d":"2017-05","i":3.5,"h":15,"r":135,"x":28.5,"n":21.5},{"d":"2017-06","i":2.5,"h":12.5,"r":41,"x":30,"n":22},{"d":"2017-07","i":1.3,"h":10.7,"r":8,"x":31.5,"n":23},{"d":"2017-08","i":1.5,"h":12.5,"r":14,"x":32,"n":22.5},{"d":"2017-09","i":1.2,"h":13.5,"r":54,"x":31.5,"n":23},{"d":"2017-10","i":2,"h":15.5,"r":122,"x":30,"n":23},{"d":"2017-11","i":2.5,"h":17.1,"r":203,"x":28,"n":22.5},{"d":"2017-12","i":3.5,"h":17.3,"r":324,"x":27,"n":22},
{"d":"2018-01","i":6,"h":17.3,"r":324,"x":27,"n":21.5},{"d":"2018-02","i":5.5,"h":17.2,"r":365,"x":26.5,"n":22},{"d":"2018-03","i":8.2,"h":17.2,"r":243,"x":27,"n":22},{"d":"2018-04","i":4,"h":17,"r":189,"x":27.5,"n":21.5},{"d":"2018-05","i":3.8,"h":15.5,"r":81,"x":28.5,"n":21},{"d":"2018-06","i":2.5,"h":13.5,"r":27,"x":29.5,"n":21},{"d":"2018-07","i":2,"h":11.5,"r":5,"x":30.5,"n":21.5},{"d":"2018-08","i":2.8,"h":12.5,"r":14,"x":31.4,"n":22},{"d":"2018-09","i":1.3,"h":12.8,"r":54,"x":30.5,"n":23},{"d":"2018-10","i":2.5,"h":15.5,"r":108,"x":29.5,"n":23},{"d":"2018-11","i":2.8,"h":16.5,"r":176,"x":28,"n":22},{"d":"2018-12","i":3,"h":17.4,"r":243,"x":25.7,"n":21}
],
"vil": [
{"d":"2007-01","i":3.5,"h":17.4,"r":80,"x":27,"n":20},{"d":"2007-02","i":0,"h":16.6,"r":380,"x":27,"n":20},{"d":"2007-03","i":6,"h":17.2,"r":160,"x":26.8,"n":20},{"d":"2007-04","i":0,"h":16,"r":100,"x":27,"n":19.5},{"d":"2007-05","i":1.5,"h":13.5,"r":20,"x":27.5,"n":19},{"d":"2007-06","i":1.5,"h":11.5,"r":0,"x":28,"n":18.5},{"d":"2007-07","i":0.5,"h":11,"r":0,"x":29.5,"n":18},{"d":"2007-08","i":0,"h":9.2,"r":0,"x":30.1,"n":19.5},{"d":"2007-09","i":6,"h":11.5,"r":40,"x":29.5,"n":20},{"d":"2007-10","i":1,"h":15,"r":180,"x":28,"n":20.5},{"d":"2007-11","i":1.5,"h":17.5,"r":240,"x":27.5,"n":20.5},{"d":"2007-12","i":0,"h":17.6,"r":250,"x":27.5,"n":20},
{"d":"2008-01","i":1,"h":17.3,"r":380,"x":26.5,"n":19.5},{"d":"2008-02","i":8.6,"h":17.4,"r":370,"x":26.5,"n":19.5},{"d":"2008-03","i":0,"h":17,"r":300,"x":27,"n":20},{"d":"2008-04","i":4.5,"h":15.5,"r":150,"x":27,"n":19},{"d":"2008-05","i":0,"h":13,"r":30,"x":27.5,"n":18.5},{"d":"2008-06","i":0,"h":11,"r":0,"x":28.5,"n":19.5},{"d":"2008-07","i":1.5,"h":9.4,"r":0,"x":29.5,"n":20},{"d":"2008-08","i":1.5,"h":9.6,"r":10,"x":30.1,"n":19.5},{"d":"2008-09","i":1.5,"h":12.5,"r":40,"x":29.5,"n":20.5},{"d":"2008-10","i":2.5,"h":15.5,"r":150,"x":28,"n":20.5},{"d":"2008-11","i":6,"h":17.3,"r":200,"x":27,"n":20},{"d":"2008-12","i":3,"h":17.4,"r":210,"x":26.5,"n":20},
{"d":"2009-01","i":5.8,"h":17.4,"r":260,"x":26,"n":20},{"d":"2009-02","i":1.5,"h":17.5,"r":260,"x":26.5,"n":20.5},{"d":"2009-03","i":5.5,"h":17.2,"r":300,"x":26.5,"n":19.5},{"d":"2009-04","i":3,"h":16,"r":220,"x":26,"n":20},{"d":"2009-05","i":3,"h":13.5,"r":60,"x":25.5,"n":20.5},{"d":"2009-06","i":3,"h":12.5,"r":10,"x":27,"n":19.5},{"d":"2009-07","i":1.5,"h":12,"r":0,"x":28.5,"n":20},{"d":"2009-08","i":0,"h":12.5,"r":5,"x":29.7,"n":20.5},{"d":"2009-09","i":0,"h":15,"r":60,"x":29.5,"n":21},{"d":"2009-10","i":1.5,"h":17.5,"r":180,"x":28,"n":20.5},{"d":"2009-11","i":4,"h":17.8,"r":330,"x":27.5,"n":21},{"d":"2009-12","i":3,"h":17.9,"r":200,"x":27,"n":20},
{"d":"2010-01","i":4,"h":18,"r":510,"x":27,"n":20.5},{"d":"2010-02","i":6.5,"h":17.8,"r":300,"x":27.5,"n":20.5},{"d":"2010-03","i":4,"h":17,"r":230,"x":27.5,"n":20.5},{"d":"2010-04","i":3,"h":15,"r":120,"x":27.5,"n":20},{"d":"2010-05","i":1,"h":12.5,"r":40,"x":28,"n":19.5},{"d":"2010-06","i":0,"h":10.5,"r":5,"x":29.5,"n":21},{"d":"2010-07","i":3,"h":8.3,"r":0,"x":30.5,"n":20.5},{"d":"2010-08","i":5,"h":10.5,"r":0,"x":31.8,"n":20},{"d":"2010-09","i":3,"h":14,"r":30,"x":31,"n":21},{"d":"2010-10","i":5,"h":16.8,"r":150,"x":29,"n":20.5},{"d":"2010-11","i":4,"h":17.2,"r":250,"x":27.5,"n":20},{"d":"2010-12","i":5,"h":17.3,"r":300,"x":27.5,"n":20.5},
{"d":"2011-01","i":3.5,"h":17,"r":365,"x":28.5,"n":20},{"d":"2011-02","i":5,"h":17.2,"r":330,"x":27,"n":19.5},{"d":"2011-03","i":3,"h":17,"r":250,"x":27,"n":19},{"d":"2011-04","i":5,"h":15.5,"r":200,"x":27.5,"n":20},{"d":"2011-05","i":4,"h":13.5,"r":50,"x":28,"n":20.5},{"d":"2011-06","i":2,"h":11.5,"r":10,"x":28.5,"n":19.5},{"d":"2011-07","i":5,"h":11,"r":0,"x":29.5,"n":19},{"d":"2011-08","i":2,"h":12,"r":10,"x":30.1,"n":20.5},{"d":"2011-09","i":1,"h":15,"r":60,"x":29.5,"n":20},{"d":"2011-10","i":0.5,"h":17,"r":170,"x":28,"n":19.5},{"d":"2011-11","i":0,"h":17.2,"r":240,"x":27,"n":20},{"d":"2011-12","i":4,"h":17.3,"r":330,"x":27,"n":20},
{"d":"2012-01","i":2.5,"h":17,"r":340,"x":27,"n":20},{"d":"2012-02","i":0,"h":16.8,"r":300,"x":27,"n":20},{"d":"2012-03","i":6.2,"h":16.9,"r":250,"x":26.5,"n":21},{"d":"2012-04","i":0.5,"h":15.5,"r":150,"x":27.5,"n":19.5},{"d":"2012-05","i":4,"h":12.5,"r":40,"x":28.5,"n":20},{"d":"2012-06","i":2,"h":10.5,"r":5,"x":29.5,"n":20.5},{"d":"2012-07","i":1,"h":8.6,"r":0,"x":31.2,"n":19},{"d":"2012-08","i":0,"h":10,"r":5,"x":30.5,"n":20.5},{"d":"2012-09","i":0,"h":13.5,"r":40,"x":29,"n":20},{"d":"2012-10","i":0,"h":16.5,"r":130,"x":27.5,"n":19.5},{"d":"2012-11","i":1,"h":17.2,"r":180,"x":27,"n":20},{"d":"2012-12","i":1.5,"h":17.3,"r":200,"x":27,"n":20.5},
{"d":"2013-01","i":3,"h":17.4,"r":305,"x":26.5,"n":18},{"d":"2013-02","i":1.5,"h":17.5,"r":250,"x":26.5,"n":19.5},{"d":"2013-03","i":3,"h":17,"r":200,"x":26.5,"n":19.5},{"d":"2013-04","i":2,"h":15.5,"r":120,"x":27,"n":20},{"d":"2013-05","i":3.5,"h":13,"r":30,"x":27.5,"n":19.5},{"d":"2013-06","i":3,"h":11,"r":5,"x":28.5,"n":20},{"d":"2013-07","i":1.5,"h":9.2,"r":0,"x":29.5,"n":19.5},{"d":"2013-08","i":0.5,"h":10.5,"r":5,"x":30.4,"n":20.5},{"d":"2013-09","i":0,"h":14,"r":50,"x":29.5,"n":20},{"d":"2013-10","i":0,"h":16.8,"r":170,"x":28,"n":20},{"d":"2013-11","i":2,"h":17.2,"r":200,"x":27,"n":19.5},{"d":"2013-12","i":1.5,"h":17.3,"r":250,"x":26.8,"n":20},
{"d":"2014-01","i":1.5,"h":17.1,"r":410,"x":26.5,"n":19},{"d":"2014-02","i":1.5,"h":17.2,"r":330,"x":26.5,"n":19.5},{"d":"2014-03","i":1.5,"h":17,"r":250,"x":27,"n":20},{"d":"2014-04","i":1.5,"h":15.5,"r":130,"x":27.5,"n":19.5},{"d":"2014-05","i":3.5,"h":13,"r":30,"x":28,"n":20},{"d":"2014-06","i":2,"h":11.5,"r":5,"x":29,"n":20.5},{"d":"2014-07","i":2.5,"h":10.3,"r":0,"x":30.5,"n":20.5},{"d":"2014-08","i":1.5,"h":11,"r":5,"x":31.2,"n":20},{"d":"2014-09","i":2.5,"h":14.5,"r":40,"x":29.5,"n":19.5},{"d":"2014-10","i":3,"h":16.8,"r":150,"x":28,"n":20},{"d":"2014-11","i":3.5,"h":17.1,"r":180,"x":27.5,"n":21},{"d":"2014-12","i":2.5,"h":17.2,"r":180,"x":27,"n":20},
{"d":"2015-01","i":3.5,"h":17,"r":200,"x":27,"n":20.5},{"d":"2015-02","i":3.5,"h":17.3,"r":280,"x":27,"n":20.5},{"d":"2015-03","i":4.5,"h":17,"r":220,"x":27,"n":22},{"d":"2015-04","i":2,"h":15.5,"r":120,"x":27.5,"n":21.5},{"d":"2015-05","i":3.5,"h":13,"r":30,"x":28,"n":20.5},{"d":"2015-06","i":0,"h":11,"r":5,"x":29,"n":21},{"d":"2015-07","i":1,"h":10,"r":0,"x":30.5,"n":20.5},{"d":"2015-08","i":3,"h":11,"r":5,"x":31.6,"n":21},{"d":"2015-09","i":0,"h":14.5,"r":40,"x":30.5,"n":20},{"d":"2015-10","i":0,"h":17,"r":100,"x":29,"n":21},{"d":"2015-11","i":2,"h":17.8,"r":200,"x":28,"n":21.5},{"d":"2015-12","i":6.5,"h":17.8,"r":290,"x":27.5,"n":22},
{"d":"2016-01","i":3,"h":17.8,"r":345,"x":27.5,"n":22.5},{"d":"2016-02","i":3,"h":17.2,"r":250,"x":27.5,"n":21.5},{"d":"2016-03","i":2.5,"h":16.5,"r":150,"x":28,"n":21},{"d":"2016-04","i":3,"h":15,"r":80,"x":28.5,"n":22},{"d":"2016-05","i":2.5,"h":13,"r":20,"x":29,"n":21},{"d":"2016-06","i":2,"h":11.5,"r":0,"x":30,"n":20},{"d":"2016-07","i":1,"h":10,"r":0,"x":30,"n":21},{"d":"2016-08","i":0,"h":10.5,"r":5,"x":29.5,"n":20.5},{"d":"2016-09","i":0,"h":14,"r":40,"x":28.5,"n":20},{"d":"2016-10","i":2,"h":16.5,"r":170,"x":28,"n":20},{"d":"2016-11","i":1.5,"h":17,"r":260,"x":27.5,"n":20.5},{"d":"2016-12","i":3,"h":17.2,"r":280,"x":27,"n":20},
{"d":"2017-01","i":0,"h":17.3,"r":290,"x":26.5,"n":19.5},{"d":"2017-02","i":3,"h":17,"r":390,"x":26.5,"n":20},{"d":"2017-03","i":2.5,"h":16.5,"r":250,"x":27,"n":20.5},{"d":"2017-04","i":3.5,"h":15,"r":120,"x":27.5,"n":19.5},{"d":"2017-05","i":1.5,"h":12.5,"r":30,"x":28.5,"n":19},{"d":"2017-06","i":2.5,"h":10.5,"r":5,"x":29.5,"n":20.5},{"d":"2017-07","i":1.5,"h":9,"r":0,"x":30.5,"n":20},{"d":"2017-08","i":1.5,"h":10,"r":5,"x":30.7,"n":19},{"d":"2017-09","i":2.5,"h":10.5,"r":50,"x":29.5,"n":19.5},{"d":"2017-10","i":2,"h":14.5,"r":180,"x":28,"n":18.5},{"d":"2017-11","i":3,"h":16.7,"r":280,"x":27.5,"n":20},{"d":"2017-12","i":2,"h":16.8,"r":325,"x":27,"n":20.5},
{"d":"2018-01","i":5,"h":16.8,"r":270,"x":26,"n":20},{"d":"2018-02","i":4,"h":16.8,"r":260,"x":25.5,"n":19.5},{"d":"2018-03","i":2,"h":16.5,"r":250,"x":26,"n":19.5},{"d":"2018-04","i":1,"h":15.5,"r":150,"x":26.5,"n":20},{"d":"2018-05","i":4,"h":13,"r":30,"x":27,"n":19},{"d":"2018-06","i":0,"h":11,"r":5,"x":28,"n":19.5},{"d":"2018-07","i":1,"h":9.6,"r":0,"x":29,"n":20},{"d":"2018-08","i":2,"h":10.5,"r":5,"x":29.7,"n":20.5},{"d":"2018-09","i":1,"h":12.5,"r":60,"x":29,"n":21},{"d":"2018-10","i":2,"h":14.5,"r":235,"x":28.5,"n":21},{"d":"2018-11","i":0,"h":16.5,"r":220,"x":28,"n":20.5},{"d":"2018-12","i":5,"h":16.8,"r":205,"x":27.3,"n":20.5}
]
},
"title": {"text": "Time", "orient": "bottom", "anchor": "middle", "fontSize": 15, "fontWeight": "bold", "offset": 6, "dx": -10},
"spacing": 9,
"vconcat": [
{
"title": {"text": "Average humidity kg/kg", "orient": "right", "anchor": "middle", "offset": 4},
"spacing": 4,
"vconcat": [
{"spacing": 6, "hconcat": [
{"spacing": 0, "bounds": "flush", "vconcat": [
{"width": 325, "height": 21, "data": {"values": [{"t": "Ariquemes"}]}, "mark": {"type": "text", "fontSize": 10.5, "color": "#1a1a1a"}, "encoding": {"text": {"field": "t"}}, "view": {"fill": "#707070", "stroke": "#333333"}},
{"width": 325, "height": 105, "data": {"name": "ari"},
 "encoding": {"x": {"field": "d", "type": "temporal", "scale": {"domain": [{"year": 2006, "month": 5, "date": 15}, {"year": 2019, "month": 7, "date": 5}]}, "axis": {"values": [{"year":2007},{"year":2008},{"year":2009},{"year":2010},{"year":2011},{"year":2012},{"year":2013},{"year":2014},{"year":2015},{"year":2016},{"year":2017},{"year":2018},{"year":2019}], "labels": false, "ticks": false, "grid": true, "gridColor": {"condition": {"test": "year(datum.value)%2==0", "value": "#bdbdbd"}, "value": "#e2e2e2"}, "title": null}}},
 "layer": [
  {"mark": {"type": "line", "color": "#555555", "strokeWidth": 0.8}, "encoding": {"y": {"field": "h", "type": "quantitative", "scale": {"domain": [2.4, 20.15]}, "axis": null}}},
  {"mark": {"type": "line", "color": "#000000", "strokeWidth": 0.9}, "encoding": {"y": {"field": "i", "type": "quantitative", "scale": {"domain": [-0.6, 17.15]}, "axis": {"orient": "left", "values": [0,2.5,5,7.5,10,12.5,15], "format": "~g", "labelExpr": "datum.value%5==0 ? datum.label : ''", "tickOpacity": {"condition": {"test": "datum.value%5==0", "value": 1}, "value": 0}, "grid": true, "gridColor": {"condition": {"test": "datum.value%5==0", "value": "#bdbdbd"}, "value": "#e2e2e2"}, "labelOverlap": false, "title": null}}}}
 ],
 "resolve": {"scale": {"y": "independent"}}}
]},
{"spacing": 0, "bounds": "flush", "vconcat": [
{"width": 325, "height": 21, "data": {"values": [{"t": "Cacoal"}]}, "mark": {"type": "text", "fontSize": 10.5, "color": "#1a1a1a"}, "encoding": {"text": {"field": "t"}}, "view": {"fill": "#707070", "stroke": "#333333"}},
{"width": 325, "height": 105, "data": {"name": "cac"},
 "encoding": {"x": {"field": "d", "type": "temporal", "scale": {"domain": [{"year": 2006, "month": 5, "date": 15}, {"year": 2019, "month": 7, "date": 5}]}, "axis": {"values": [{"year":2007},{"year":2008},{"year":2009},{"year":2010},{"year":2011},{"year":2012},{"year":2013},{"year":2014},{"year":2015},{"year":2016},{"year":2017},{"year":2018},{"year":2019}], "labels": false, "ticks": false, "grid": true, "gridColor": {"condition": {"test": "year(datum.value)%2==0", "value": "#bdbdbd"}, "value": "#e2e2e2"}, "title": null}}},
 "layer": [
  {"mark": {"type": "line", "color": "#555555", "strokeWidth": 0.8}, "encoding": {"y": {"field": "h", "type": "quantitative", "scale": {"domain": [2.4, 20.15]}, "axis": {"orient": "right", "values": [5,10,15,20], "grid": false, "title": null}}}},
  {"mark": {"type": "line", "color": "#000000", "strokeWidth": 0.9}, "encoding": {"y": {"field": "i", "type": "quantitative", "scale": {"domain": [-0.6, 17.15]}, "axis": {"orient": "left", "values": [0,2.5,5,7.5,10,12.5,15], "labels": false, "ticks": false, "grid": true, "gridColor": {"condition": {"test": "datum.value%5==0", "value": "#bdbdbd"}, "value": "#e2e2e2"}, "title": null}}}}
 ],
 "resolve": {"scale": {"y": "independent"}}}
]}
]},
{"spacing": 6, "hconcat": [
{"spacing": 0, "bounds": "flush", "vconcat": [
{"width": 325, "height": 21, "data": {"values": [{"t": "Porto Velho"}]}, "mark": {"type": "text", "fontSize": 10.5, "color": "#1a1a1a"}, "encoding": {"text": {"field": "t"}}, "view": {"fill": "#707070", "stroke": "#333333"}},
{"width": 325, "height": 105, "data": {"name": "pvh"},
 "encoding": {"x": {"field": "d", "type": "temporal", "scale": {"domain": [{"year": 2006, "month": 5, "date": 15}, {"year": 2019, "month": 7, "date": 5}]}, "axis": {"values": [{"year":2007},{"year":2008},{"year":2009},{"year":2010},{"year":2011},{"year":2012},{"year":2013},{"year":2014},{"year":2015},{"year":2016},{"year":2017},{"year":2018},{"year":2019}], "format": "%Y", "labelExpr": "year(datum.value)%2==0 ? datum.label : ''", "tickOpacity": {"condition": {"test": "year(datum.value)%2==0", "value": 1}, "value": 0}, "labelOverlap": false, "labelFlush": false, "grid": true, "gridColor": {"condition": {"test": "year(datum.value)%2==0", "value": "#bdbdbd"}, "value": "#e2e2e2"}, "title": null}}},
 "layer": [
  {"mark": {"type": "line", "color": "#555555", "strokeWidth": 0.8}, "encoding": {"y": {"field": "h", "type": "quantitative", "scale": {"domain": [2.4, 20.15]}, "axis": null}}},
  {"mark": {"type": "line", "color": "#000000", "strokeWidth": 0.9}, "encoding": {"y": {"field": "i", "type": "quantitative", "scale": {"domain": [-0.6, 17.15]}, "axis": {"orient": "left", "values": [0,2.5,5,7.5,10,12.5,15], "format": "~g", "labelExpr": "datum.value%5==0 ? datum.label : ''", "tickOpacity": {"condition": {"test": "datum.value%5==0", "value": 1}, "value": 0}, "grid": true, "gridColor": {"condition": {"test": "datum.value%5==0", "value": "#bdbdbd"}, "value": "#e2e2e2"}, "labelOverlap": false, "title": null}}}}
 ],
 "resolve": {"scale": {"y": "independent"}}}
]},
{"spacing": 0, "bounds": "flush", "vconcat": [
{"width": 325, "height": 21, "data": {"values": [{"t": "Vilhena"}]}, "mark": {"type": "text", "fontSize": 10.5, "color": "#1a1a1a"}, "encoding": {"text": {"field": "t"}}, "view": {"fill": "#707070", "stroke": "#333333"}},
{"width": 325, "height": 105, "data": {"name": "vil"},
 "encoding": {"x": {"field": "d", "type": "temporal", "scale": {"domain": [{"year": 2006, "month": 5, "date": 15}, {"year": 2019, "month": 7, "date": 5}]}, "axis": {"values": [{"year":2007},{"year":2008},{"year":2009},{"year":2010},{"year":2011},{"year":2012},{"year":2013},{"year":2014},{"year":2015},{"year":2016},{"year":2017},{"year":2018},{"year":2019}], "format": "%Y", "labelExpr": "year(datum.value)%2==0 ? datum.label : ''", "tickOpacity": {"condition": {"test": "year(datum.value)%2==0", "value": 1}, "value": 0}, "labelOverlap": false, "labelFlush": false, "grid": true, "gridColor": {"condition": {"test": "year(datum.value)%2==0", "value": "#bdbdbd"}, "value": "#e2e2e2"}, "title": null}}},
 "layer": [
  {"mark": {"type": "line", "color": "#555555", "strokeWidth": 0.8}, "encoding": {"y": {"field": "h", "type": "quantitative", "scale": {"domain": [2.4, 20.15]}, "axis": {"orient": "right", "values": [5,10,15,20], "grid": false, "title": null}}}},
  {"mark": {"type": "line", "color": "#000000", "strokeWidth": 0.9}, "encoding": {"y": {"field": "i", "type": "quantitative", "scale": {"domain": [-0.6, 17.15]}, "axis": {"orient": "left", "values": [0,2.5,5,7.5,10,12.5,15], "labels": false, "ticks": false, "grid": true, "gridColor": {"condition": {"test": "datum.value%5==0", "value": "#bdbdbd"}, "value": "#e2e2e2"}, "title": null}}}}
 ],
 "resolve": {"scale": {"y": "independent"}}}
]}
]}
]
},
{
"spacing": -4,
"hconcat": [
{"width": 1, "height": 268, "data": {"values": []}, "mark": "point", "view": {"stroke": null}, "title": {"text": "Snakebite incidence per 100,000 inhab.", "orient": "left", "anchor": "middle", "offset": 8}},
{
"title": {"text": "Average rainfall in mm³", "orient": "right", "anchor": "middle", "offset": 1},
"spacing": 4,
"vconcat": [
{"spacing": 4, "hconcat": [
{"spacing": 0, "bounds": "flush", "vconcat": [
{"width": 313, "height": 21, "data": {"values": [{"t": "Ariquemes"}]}, "mark": {"type": "text", "fontSize": 10.5, "color": "#1a1a1a"}, "encoding": {"text": {"field": "t"}}, "view": {"fill": "#707070", "stroke": "#333333"}},
{"width": 313, "height": 105, "data": {"name": "ari"},
 "encoding": {"x": {"field": "d", "type": "temporal", "scale": {"domain": [{"year": 2006, "month": 5, "date": 15}, {"year": 2019, "month": 7, "date": 5}]}, "axis": {"values": [{"year":2007},{"year":2008},{"year":2009},{"year":2010},{"year":2011},{"year":2012},{"year":2013},{"year":2014},{"year":2015},{"year":2016},{"year":2017},{"year":2018},{"year":2019}], "labels": false, "ticks": false, "grid": true, "gridColor": {"condition": {"test": "year(datum.value)%2==0", "value": "#bdbdbd"}, "value": "#e2e2e2"}, "title": null}}},
 "layer": [
  {"mark": {"type": "line", "color": "#555555", "strokeWidth": 0.8}, "encoding": {"y": {"field": "r", "type": "quantitative", "scale": {"domain": [-18.8, 527]}, "axis": null}}},
  {"mark": {"type": "line", "color": "#000000", "strokeWidth": 0.9}, "encoding": {"y": {"field": "i", "type": "quantitative", "scale": {"domain": [-0.7, 19.6]}, "axis": {"orient": "left", "values": [0,2.5,5,7.5,10,12.5,15,17.5], "format": "~g", "labelExpr": "datum.value%5==0 ? datum.label : ''", "tickOpacity": {"condition": {"test": "datum.value%5==0", "value": 1}, "value": 0}, "grid": true, "gridColor": {"condition": {"test": "datum.value%5==0", "value": "#bdbdbd"}, "value": "#e2e2e2"}, "labelOverlap": false, "title": null}}}}
 ],
 "resolve": {"scale": {"y": "independent"}}}
]},
{"spacing": 0, "bounds": "flush", "vconcat": [
{"width": 312, "height": 21, "data": {"values": [{"t": "Cacoal"}]}, "mark": {"type": "text", "fontSize": 10.5, "color": "#1a1a1a"}, "encoding": {"text": {"field": "t"}}, "view": {"fill": "#707070", "stroke": "#333333"}},
{"width": 312, "height": 105, "data": {"name": "cac"},
 "encoding": {"x": {"field": "d", "type": "temporal", "scale": {"domain": [{"year": 2006, "month": 5, "date": 15}, {"year": 2019, "month": 7, "date": 5}]}, "axis": {"values": [{"year":2007},{"year":2008},{"year":2009},{"year":2010},{"year":2011},{"year":2012},{"year":2013},{"year":2014},{"year":2015},{"year":2016},{"year":2017},{"year":2018},{"year":2019}], "labels": false, "ticks": false, "grid": true, "gridColor": {"condition": {"test": "year(datum.value)%2==0", "value": "#bdbdbd"}, "value": "#e2e2e2"}, "title": null}}},
 "layer": [
  {"mark": {"type": "line", "color": "#555555", "strokeWidth": 0.8}, "encoding": {"y": {"field": "r", "type": "quantitative", "scale": {"domain": [-18.8, 527]}, "axis": {"orient": "right", "values": [0,100,200,300,400,500], "grid": false, "title": null}}}},
  {"mark": {"type": "line", "color": "#000000", "strokeWidth": 0.9}, "encoding": {"y": {"field": "i", "type": "quantitative", "scale": {"domain": [-0.7, 19.6]}, "axis": {"orient": "left", "values": [0,2.5,5,7.5,10,12.5,15,17.5], "labels": false, "ticks": false, "grid": true, "gridColor": {"condition": {"test": "datum.value%5==0", "value": "#bdbdbd"}, "value": "#e2e2e2"}, "title": null}}}}
 ],
 "resolve": {"scale": {"y": "independent"}}}
]}
]},
{"spacing": 4, "hconcat": [
{"spacing": 0, "bounds": "flush", "vconcat": [
{"width": 313, "height": 21, "data": {"values": [{"t": "Porto Velho"}]}, "mark": {"type": "text", "fontSize": 10.5, "color": "#1a1a1a"}, "encoding": {"text": {"field": "t"}}, "view": {"fill": "#707070", "stroke": "#333333"}},
{"width": 313, "height": 105, "data": {"name": "pvh"},
 "encoding": {"x": {"field": "d", "type": "temporal", "scale": {"domain": [{"year": 2006, "month": 5, "date": 15}, {"year": 2019, "month": 7, "date": 5}]}, "axis": {"values": [{"year":2007},{"year":2008},{"year":2009},{"year":2010},{"year":2011},{"year":2012},{"year":2013},{"year":2014},{"year":2015},{"year":2016},{"year":2017},{"year":2018},{"year":2019}], "format": "%Y", "labelExpr": "year(datum.value)%2==0 ? datum.label : ''", "tickOpacity": {"condition": {"test": "year(datum.value)%2==0", "value": 1}, "value": 0}, "labelOverlap": false, "labelFlush": false, "grid": true, "gridColor": {"condition": {"test": "year(datum.value)%2==0", "value": "#bdbdbd"}, "value": "#e2e2e2"}, "title": null}}},
 "layer": [
  {"mark": {"type": "line", "color": "#555555", "strokeWidth": 0.8}, "encoding": {"y": {"field": "r", "type": "quantitative", "scale": {"domain": [-18.8, 527]}, "axis": null}}},
  {"mark": {"type": "line", "color": "#000000", "strokeWidth": 0.9}, "encoding": {"y": {"field": "i", "type": "quantitative", "scale": {"domain": [-0.7, 19.6]}, "axis": {"orient": "left", "values": [0,2.5,5,7.5,10,12.5,15,17.5], "format": "~g", "labelExpr": "datum.value%5==0 ? datum.label : ''", "tickOpacity": {"condition": {"test": "datum.value%5==0", "value": 1}, "value": 0}, "grid": true, "gridColor": {"condition": {"test": "datum.value%5==0", "value": "#bdbdbd"}, "value": "#e2e2e2"}, "labelOverlap": false, "title": null}}}}
 ],
 "resolve": {"scale": {"y": "independent"}}}
]},
{"spacing": 0, "bounds": "flush", "vconcat": [
{"width": 312, "height": 21, "data": {"values": [{"t": "Vilhena"}]}, "mark": {"type": "text", "fontSize": 10.5, "color": "#1a1a1a"}, "encoding": {"text": {"field": "t"}}, "view": {"fill": "#707070", "stroke": "#333333"}},
{"width": 312, "height": 105, "data": {"name": "vil"},
 "encoding": {"x": {"field": "d", "type": "temporal", "scale": {"domain": [{"year": 2006, "month": 5, "date": 15}, {"year": 2019, "month": 7, "date": 5}]}, "axis": {"values": [{"year":2007},{"year":2008},{"year":2009},{"year":2010},{"year":2011},{"year":2012},{"year":2013},{"year":2014},{"year":2015},{"year":2016},{"year":2017},{"year":2018},{"year":2019}], "format": "%Y", "labelExpr": "year(datum.value)%2==0 ? datum.label : ''", "tickOpacity": {"condition": {"test": "year(datum.value)%2==0", "value": 1}, "value": 0}, "labelOverlap": false, "labelFlush": false, "grid": true, "gridColor": {"condition": {"test": "year(datum.value)%2==0", "value": "#bdbdbd"}, "value": "#e2e2e2"}, "title": null}}},
 "layer": [
  {"mark": {"type": "line", "color": "#555555", "strokeWidth": 0.8}, "encoding": {"y": {"field": "r", "type": "quantitative", "scale": {"domain": [-18.8, 527]}, "axis": {"orient": "right", "values": [0,100,200,300,400,500], "grid": false, "title": null}}}},
  {"mark": {"type": "line", "color": "#000000", "strokeWidth": 0.9}, "encoding": {"y": {"field": "i", "type": "quantitative", "scale": {"domain": [-0.7, 19.6]}, "axis": {"orient": "left", "values": [0,2.5,5,7.5,10,12.5,15,17.5], "labels": false, "ticks": false, "grid": true, "gridColor": {"condition": {"test": "datum.value%5==0", "value": "#bdbdbd"}, "value": "#e2e2e2"}, "title": null}}}}
 ],
 "resolve": {"scale": {"y": "independent"}}}
]}
]}
]
}
]
},
{
"title": {"text": "Average temperature  °C", "orient": "right", "anchor": "middle", "offset": 4},
"spacing": 4,
"vconcat": [
{"spacing": 5, "hconcat": [
{"spacing": 0, "bounds": "flush", "vconcat": [
{"width": 325, "height": 21, "data": {"values": [{"t": "Ariquemes"}]}, "mark": {"type": "text", "fontSize": 10.5, "color": "#1a1a1a"}, "encoding": {"text": {"field": "t"}}, "view": {"fill": "#707070", "stroke": "#333333"}},
{"width": 325, "height": 105, "data": {"name": "ari"},
 "encoding": {"x": {"field": "d", "type": "temporal", "scale": {"domain": [{"year": 2006, "month": 5, "date": 15}, {"year": 2019, "month": 7, "date": 5}]}, "axis": {"values": [{"year":2007},{"year":2008},{"year":2009},{"year":2010},{"year":2011},{"year":2012},{"year":2013},{"year":2014},{"year":2015},{"year":2016},{"year":2017},{"year":2018},{"year":2019}], "labels": false, "ticks": false, "grid": true, "gridColor": {"condition": {"test": "year(datum.value)%2==0", "value": "#bdbdbd"}, "value": "#e2e2e2"}, "title": null}}},
 "layer": [
  {"mark": {"type": "line", "color": "#3333cc", "strokeWidth": 0.9}, "encoding": {"y": {"field": "x", "type": "quantitative", "scale": {"domain": [-1.86, 37.4]}, "axis": null}}},
  {"mark": {"type": "line", "color": "#9933cc", "strokeWidth": 0.9, "invalid": "break-paths-show-domains"}, "encoding": {"y": {"field": "n", "type": "quantitative", "scale": {"domain": [-1.86, 37.4]}, "axis": null}}},
  {"mark": {"type": "line", "color": "#000000", "strokeWidth": 0.9}, "encoding": {"y": {"field": "i", "type": "quantitative", "scale": {"domain": [-0.93, 18.7]}, "axis": {"orient": "left", "values": [0,2.5,5,7.5,10,12.5,15,17.5], "format": "~g", "labelExpr": "datum.value%5==0 ? datum.label : ''", "tickOpacity": {"condition": {"test": "datum.value%5==0", "value": 1}, "value": 0}, "grid": true, "gridColor": {"condition": {"test": "datum.value%5==0", "value": "#bdbdbd"}, "value": "#e2e2e2"}, "labelOverlap": false, "title": null}}}}
 ],
 "resolve": {"scale": {"y": "independent"}}}
]},
{"spacing": 0, "bounds": "flush", "vconcat": [
{"width": 323, "height": 21, "data": {"values": [{"t": "Cacoal"}]}, "mark": {"type": "text", "fontSize": 10.5, "color": "#1a1a1a"}, "encoding": {"text": {"field": "t"}}, "view": {"fill": "#707070", "stroke": "#333333"}},
{"width": 323, "height": 105, "data": {"name": "cac"},
 "encoding": {"x": {"field": "d", "type": "temporal", "scale": {"domain": [{"year": 2006, "month": 5, "date": 15}, {"year": 2019, "month": 7, "date": 5}]}, "axis": {"values": [{"year":2007},{"year":2008},{"year":2009},{"year":2010},{"year":2011},{"year":2012},{"year":2013},{"year":2014},{"year":2015},{"year":2016},{"year":2017},{"year":2018},{"year":2019}], "labels": false, "ticks": false, "grid": true, "gridColor": {"condition": {"test": "year(datum.value)%2==0", "value": "#bdbdbd"}, "value": "#e2e2e2"}, "title": null}}},
 "layer": [
  {"mark": {"type": "line", "color": "#3333cc", "strokeWidth": 0.9}, "encoding": {"y": {"field": "x", "type": "quantitative", "scale": {"domain": [-1.86, 37.4]}, "axis": {"orient": "right", "values": [0,10,20,30], "grid": false, "title": null}}}},
  {"mark": {"type": "line", "color": "#9933cc", "strokeWidth": 0.9, "invalid": "break-paths-show-domains"}, "encoding": {"y": {"field": "n", "type": "quantitative", "scale": {"domain": [-1.86, 37.4]}, "axis": null}}},
  {"mark": {"type": "line", "color": "#000000", "strokeWidth": 0.9}, "encoding": {"y": {"field": "i", "type": "quantitative", "scale": {"domain": [-0.93, 18.7]}, "axis": {"orient": "left", "values": [0,2.5,5,7.5,10,12.5,15,17.5], "labels": false, "ticks": false, "grid": true, "gridColor": {"condition": {"test": "datum.value%5==0", "value": "#bdbdbd"}, "value": "#e2e2e2"}, "title": null}}}}
 ],
 "resolve": {"scale": {"y": "independent"}}}
]}
]},
{"spacing": 5, "hconcat": [
{"spacing": 0, "bounds": "flush", "vconcat": [
{"width": 325, "height": 21, "data": {"values": [{"t": "Porto Velho"}]}, "mark": {"type": "text", "fontSize": 10.5, "color": "#1a1a1a"}, "encoding": {"text": {"field": "t"}}, "view": {"fill": "#707070", "stroke": "#333333"}},
{"width": 325, "height": 105, "data": {"name": "pvh"},
 "encoding": {"x": {"field": "d", "type": "temporal", "scale": {"domain": [{"year": 2006, "month": 5, "date": 15}, {"year": 2019, "month": 7, "date": 5}]}, "axis": {"values": [{"year":2007},{"year":2008},{"year":2009},{"year":2010},{"year":2011},{"year":2012},{"year":2013},{"year":2014},{"year":2015},{"year":2016},{"year":2017},{"year":2018},{"year":2019}], "format": "%Y", "labelExpr": "year(datum.value)%2==0 ? datum.label : ''", "tickOpacity": {"condition": {"test": "year(datum.value)%2==0", "value": 1}, "value": 0}, "labelOverlap": false, "labelFlush": false, "grid": true, "gridColor": {"condition": {"test": "year(datum.value)%2==0", "value": "#bdbdbd"}, "value": "#e2e2e2"}, "title": null}}},
 "layer": [
  {"mark": {"type": "line", "color": "#3333cc", "strokeWidth": 0.9}, "encoding": {"y": {"field": "x", "type": "quantitative", "scale": {"domain": [-1.86, 37.4]}, "axis": null}}},
  {"mark": {"type": "line", "color": "#9933cc", "strokeWidth": 0.9, "invalid": "break-paths-show-domains"}, "encoding": {"y": {"field": "n", "type": "quantitative", "scale": {"domain": [-1.86, 37.4]}, "axis": null}}},
  {"mark": {"type": "line", "color": "#000000", "strokeWidth": 0.9}, "encoding": {"y": {"field": "i", "type": "quantitative", "scale": {"domain": [-0.93, 18.7]}, "axis": {"orient": "left", "values": [0,2.5,5,7.5,10,12.5,15,17.5], "format": "~g", "labelExpr": "datum.value%5==0 ? datum.label : ''", "tickOpacity": {"condition": {"test": "datum.value%5==0", "value": 1}, "value": 0}, "grid": true, "gridColor": {"condition": {"test": "datum.value%5==0", "value": "#bdbdbd"}, "value": "#e2e2e2"}, "labelOverlap": false, "title": null}}}}
 ],
 "resolve": {"scale": {"y": "independent"}}}
]},
{"spacing": 0, "bounds": "flush", "vconcat": [
{"width": 323, "height": 21, "data": {"values": [{"t": "Vilhena"}]}, "mark": {"type": "text", "fontSize": 10.5, "color": "#1a1a1a"}, "encoding": {"text": {"field": "t"}}, "view": {"fill": "#707070", "stroke": "#333333"}},
{"width": 323, "height": 105, "data": {"name": "vil"},
 "encoding": {"x": {"field": "d", "type": "temporal", "scale": {"domain": [{"year": 2006, "month": 5, "date": 15}, {"year": 2019, "month": 7, "date": 5}]}, "axis": {"values": [{"year":2007},{"year":2008},{"year":2009},{"year":2010},{"year":2011},{"year":2012},{"year":2013},{"year":2014},{"year":2015},{"year":2016},{"year":2017},{"year":2018},{"year":2019}], "format": "%Y", "labelExpr": "year(datum.value)%2==0 ? datum.label : ''", "tickOpacity": {"condition": {"test": "year(datum.value)%2==0", "value": 1}, "value": 0}, "labelOverlap": false, "labelFlush": false, "grid": true, "gridColor": {"condition": {"test": "year(datum.value)%2==0", "value": "#bdbdbd"}, "value": "#e2e2e2"}, "title": null}}},
 "layer": [
  {"mark": {"type": "line", "color": "#3333cc", "strokeWidth": 0.9}, "encoding": {"y": {"field": "x", "type": "quantitative", "scale": {"domain": [-1.86, 37.4]}, "axis": {"orient": "right", "values": [0,10,20,30], "grid": false, "title": null}}}},
  {"mark": {"type": "line", "color": "#9933cc", "strokeWidth": 0.9, "invalid": "break-paths-show-domains"}, "encoding": {"y": {"field": "n", "type": "quantitative", "scale": {"domain": [-1.86, 37.4]}, "axis": null}}},
  {"mark": {"type": "line", "color": "#000000", "strokeWidth": 0.9}, "encoding": {"y": {"field": "i", "type": "quantitative", "scale": {"domain": [-0.93, 18.7]}, "axis": {"orient": "left", "values": [0,2.5,5,7.5,10,12.5,15,17.5], "labels": false, "ticks": false, "grid": true, "gridColor": {"condition": {"test": "datum.value%5==0", "value": "#bdbdbd"}, "value": "#e2e2e2"}, "title": null}}}}
 ],
 "resolve": {"scale": {"y": "independent"}}}
]}
]}
]
}
],
"config": {
 "font": "Liberation Sans",
 "view": {"stroke": "#333333", "strokeWidth": 1},
 "axis": {"labelFont": "Liberation Sans", "labelFontSize": 10.5, "labelColor": "#262626", "tickColor": "#333333", "tickSize": 3, "labelPadding": 2, "domain": false, "gridWidth": 1},
 "axisLeft": {"labelPadding": 1},
 "axisRight": {"labelPadding": 3},
 "title": {"font": "Liberation Sans", "fontSize": 13.5, "fontWeight": "normal", "color": "#000000"},
 "text": {"font": "Liberation Sans"}
}
}
